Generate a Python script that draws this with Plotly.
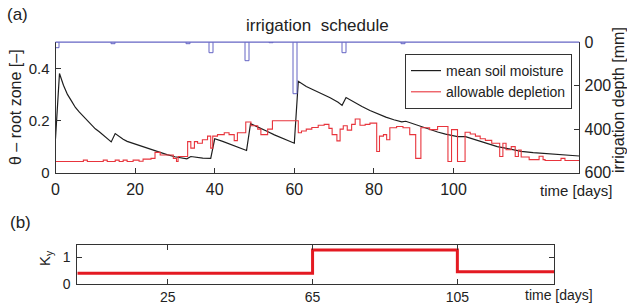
import plotly.graph_objects as go

# ---------------- data ----------------
sm_days = [0, 1, 2, 3, 4, 5, 6, 7, 8, 9, 10, 11, 12, 13, 14, 15, 16, 17, 18, 20, 22, 24, 26, 28,
           30, 32, 33, 34, 35, 37, 39, 40, 42, 44, 46, 48, 49, 51, 53, 55, 57, 59, 60, 61, 63,
           65, 67, 69, 71, 72, 73, 75, 77, 79, 81, 83, 85, 87, 88, 90, 92, 94, 96, 98, 100,
           101, 103, 105, 107, 109, 111, 113, 115, 117, 120, 123, 126, 129, 131.6]
sm_vals = [0.13, 0.38, 0.335, 0.30, 0.275, 0.25, 0.232, 0.215, 0.198, 0.183, 0.168, 0.157,
           0.145, 0.133, 0.118, 0.15, 0.138, 0.128, 0.12, 0.11, 0.098, 0.087, 0.078, 0.069,
           0.061, 0.055, 0.053, 0.062, 0.06, 0.056, 0.055, 0.13, 0.12, 0.108, 0.096, 0.085,
           0.188, 0.175, 0.16, 0.145, 0.133, 0.12, 0.113, 0.35, 0.33, 0.316, 0.302, 0.287,
           0.27, 0.258, 0.288, 0.27, 0.254, 0.238, 0.225, 0.213, 0.203, 0.195, 0.197, 0.186,
           0.175, 0.165, 0.156, 0.148, 0.14, 0.138, 0.138, 0.128, 0.118, 0.108, 0.1, 0.094,
           0.088, 0.082, 0.077, 0.073, 0.07, 0.066, 0.064]

ad_days = [0, 7, 8, 12, 13, 15, 16, 17, 18, 19.5, 21, 22, 24, 25, 26.3, 29.6, 30.4, 30.8,
           33.2, 34.0, 34.9, 35.7, 36.9, 38.2, 39.0, 39.5, 40.7, 42.4, 43.6, 44.9, 45.7, 47.8,
           49.1, 50.8, 51.6, 53.3, 54.5, 61.0, 61.8, 63.0, 64.4, 66.0, 67.5, 68.7, 69.5, 70.7,
           71.5, 72.3, 73.3, 74.4, 75.3, 76.5, 77.8, 79.0, 80.7, 81.4, 82.4, 83.2, 84.0, 85.7,
           87.3, 89.0, 90.5, 91.8, 94.0, 96.0, 98.6, 99.5, 101.0, 102.9, 104.2, 105.5, 106.7,
           108.0, 109.6, 111.6, 112.4, 113.2, 114.5, 115.5, 116.3, 117.0, 119.0, 121.5, 122.5,
           123.0, 127.0, 128.0, 131.6]
ad_vals = [0.043, 0.048, 0.043, 0.048, 0.043, 0.048, 0.043, 0.048, 0.043, 0.048, 0.044,
           0.052, 0.055, 0.078, 0.068, 0.055, 0.043, 0.062, 0.119, 0.094, 0.119, 0.113, 0.126,
           0.14, 0.094, 0.14, 0.146, 0.153, 0.146, 0.123, 0.153, 0.194, 0.18, 0.167, 0.146,
           0.167, 0.199, 0.153, 0.16, 0.167, 0.173, 0.182, 0.185, 0.17, 0.146, 0.122, 0.167,
           0.18, 0.163, 0.185, 0.206, 0.182, 0.185, 0.19, 0.081, 0.14, 0.146, 0.126, 0.172,
           0.177, 0.172, 0.146, 0.055, 0.172, 0.165, 0.177, 0.043, 0.165, 0.043, 0.155, 0.148,
           0.14, 0.13, 0.124, 0.113, 0.062, 0.113, 0.088, 0.1, 0.062, 0.087, 0.06, 0.05, 0.063,
           0.05, 0.047, 0.055, 0.047, 0.047]

irr_days = [0, 14, 33, 38.7, 47.8, 53.8, 59.7, 72.1, 87]
irr_depth = [26, 8, 8, 49, 88, 4, 241, 49, 8]

ky_days = [0, 65, 105, 131.7]
ky_vals = [0.41, 1.27, 0.47, 0.47]

x_ticks_a = [0, 20, 40, 60, 80, 100]
y_ticks_a = [0, 0.2, 0.4]
y_ticklabels_a = ["0", "0.2", "0.4"]
y2_ticks_a = [0, 200, 400, 600]
x_ticks_b = [25, 65, 105]
y_ticks_b = [0, 1]

# ---------------- figure ----------------
W, H = 627, 304
FONT = "Liberation Sans, Arial, sans-serif"
AX = "#333333"
BLUE = "#6464c4"
RED = "#e8343c"


def px(x):
    return x / W


def py(y):
    return 1 - y / H


fig = go.Figure()
fig.add_trace(go.Scatter(x=sm_days, y=sm_vals, mode="lines", name="mean soil moisture",
                         line=dict(color="#1e1e1e", width=1.2), xaxis="x", yaxis="y"))
fig.add_trace(go.Scatter(x=ad_days, y=ad_vals, mode="lines", name="allowable depletion",
                         line=dict(color=RED, width=1.1, shape="hv"), xaxis="x", yaxis="y"))
fig.add_trace(go.Bar(x=irr_days, y=irr_depth, width=1, offset=0, xaxis="x", yaxis="y2",
                     showlegend=False,
                     marker=dict(color="rgba(0,0,0,0)", line=dict(color=BLUE, width=1))))
fig.add_trace(go.Scatter(x=ky_days, y=ky_vals, mode="lines", showlegend=False,
                         line=dict(color="#e41a22", width=3, shape="hv"),
                         xaxis="x2", yaxis="y3"))

common = dict(showgrid=False, zeroline=False, showline=True, linecolor=AX, linewidth=1,
              ticks="inside", ticklen=5, tickcolor=AX, tickwidth=1)

fig.update_layout(
    width=W, height=H,
    margin=dict(l=0, r=0, t=0, b=0, autoexpand=False),
    paper_bgcolor="white", plot_bgcolor="white",
    font=dict(family=FONT, color="#222222"),
    showlegend=True,
    legend=dict(x=px(572), y=py(54), xanchor="right", yanchor="top",
                bgcolor="white", bordercolor="#333333", borderwidth=1,
                font=dict(size=14, family=FONT, color="#222222"),
                tracegroupgap=0, itemwidth=30),
    bargap=0,
    xaxis=dict(domain=[px(55.5), px(579.3)], range=[0, 131.6], anchor="y",
               tickvals=x_ticks_a, tickfont=dict(size=16), ticklabelstandoff=2, **common),
    yaxis=dict(domain=[py(172.7), py(42.2)], range=[0, 0.5], anchor="x",
               tickvals=y_ticks_a, ticktext=y_ticklabels_a, tickfont=dict(size=15),
               ticklabelstandoff=2, **common),
    yaxis2=dict(overlaying="y", side="right", range=[600, 0], anchor="x",
                tickvals=y2_ticks_a, tickfont=dict(size=16), ticklabelstandoff=1, **common),
    xaxis2=dict(domain=[px(77.3), px(554)], range=[0, 131.7], anchor="y3",
                tickvals=x_ticks_b, tickfont=dict(size=14), mirror="ticks",
                ticklabelstandoff=0, **common),
    yaxis3=dict(domain=[py(284.3), py(244.7)], range=[0, 1.47], anchor="x2",
                tickvals=y_ticks_b, tickfont=dict(size=14), mirror="ticks",
                ticklabelstandoff=3, **common),
)

# blue top border of panel (a)
fig.add_shape(type="line", xref="paper", yref="paper", x0=px(55.5), x1=px(579.3),
              y0=py(42.2), y1=py(42.2), line=dict(color=BLUE, width=1.2))

ann = [
    dict(text="(a)", x=px(17), y=py(15), size=17, angle=0),
    dict(text="(b)", x=px(20), y=py(222), size=17, angle=0),
    dict(text="irrigation  schedule", x=px(317), y=py(25), size=17, angle=0),
    dict(text="θ – root zone [–]", x=px(15), y=py(107), size=16, angle=-90),
    dict(text="irrigation depth [mm]", x=px(618), y=py(100), size=16, angle=-90),
    dict(text="time [days]", x=px(576), y=py(190), size=15, angle=0),
    dict(text="time [days]", x=px(559), y=py(295), size=14, angle=0),
    dict(text="K<sub>y</sub>", x=px(45), y=py(258), size=15, angle=-90),
]
for a in ann:
    fig.add_annotation(text=a["text"], x=a["x"], y=a["y"], xref="paper", yref="paper",
                       xanchor="center", yanchor="middle", showarrow=False,
                       textangle=a["angle"], font=dict(size=a["size"], family=FONT,
                                                       color="#222222"))

fig.write_html("out.html", config={"displayModeBar": False},
               post_script="document.body.style.margin='0';document.body.style.overflow='hidden';")
